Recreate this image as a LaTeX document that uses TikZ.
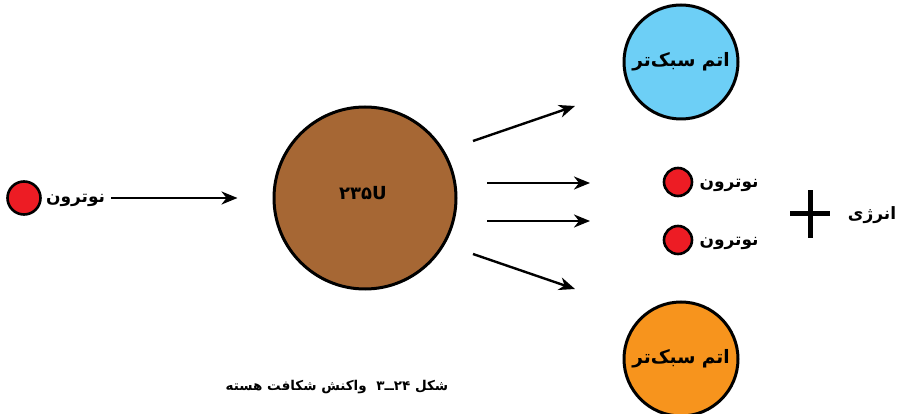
\documentclass[tikz,border=0pt]{standalone}
\usepackage{fontspec}
\usetikzlibrary{shapes, arrows.meta, positioning}
\newfontfamily\fafont[Script=Arabic]{DejaVu Sans}
\TeXXeTstate=1
\newcommand{\fatext}[1]{{\fafont\bfseries\beginR #1\endR}}
\definecolor{nred}{RGB}{237,28,36}
\definecolor{ubrown}{RGB}{166,103,52}
\definecolor{lblue}{RGB}{109,207,246}
\definecolor{lorange}{RGB}{247,148,29}

\begin{document}
\begin{tikzpicture}[x=1pt, y=-1pt,
        neutron/.style={circle, draw, line width=2.6pt, fill=nred, minimum size=28pt, inner sep=0pt},
        nucleus/.style={circle, draw, line width=3pt, fill=ubrown, minimum size=182pt, inner sep=0pt},
        atom/.style={circle, draw, line width=3pt, minimum size=114pt, inner sep=0pt},
        fatxt/.style={inner sep=0pt, font=\fontsize{17}{20}\selectfont},
        arrow/.style={-{Stealth[length=16pt, width=13pt, inset=5pt]}, line width=2.4pt}
    ]
    \useasboundingbox (0,0) rectangle (903,414);
    % incoming neutron
    \node[neutron, minimum size=33pt] (n0) at (24,198) {};
    \node[fatxt, right=4pt of n0, yshift=-2pt] (n0txt) {\fatext{نوترون}};
    % uranium nucleus
    \node[nucleus] (u) at (365,198) {};
    \node[fatxt, font=\fontsize{18}{20}\selectfont] (utxt) at (363,193) {\fafont\bfseries ۲۳۵U};
    \draw[arrow, shorten <=6pt, shorten >=35pt] (n0txt.east |- n0) -- (u.west);
    % fission products
    \node[atom, fill=lblue] (top) at (681,62) {\fontsize{18.5}{22}\selectfont\fatext{اتم سبک‌تر}};
    \node[atom, fill=lorange] (bottom) at (681,359) {\fontsize{18.5}{22}\selectfont\fatext{اتم سبک‌تر}};
    \node[neutron] (n1) at (678,182) {};
    \node[neutron] (n2) at (678,240) {};
    \node[fatxt, right=6pt of n1, yshift=-3pt] (n1txt) {\fatext{نوترون}};
    \node[fatxt, right=6pt of n2, yshift=-3pt] (n2txt) {\fatext{نوترون}};
    % energy
    \coordinate (plus) at (810,214);
    \draw[line width=5pt] ([xshift=-20pt]plus) -- ([xshift=20pt]plus)
        ([yshift=-24pt]plus) -- ([yshift=24pt]plus);
    \node[fatxt] (energy) at (872,215) {\fatext{انرژی}};
    % arrows out of the nucleus
    \coordinate (a1s) at (473,141); \coordinate (a1e) at (575,106);
    \coordinate (a2s) at (487,183); \coordinate (a2e) at (590,183);
    \coordinate (a3s) at (487,221); \coordinate (a3e) at (590,221);
    \coordinate (a4s) at (473,254); \coordinate (a4e) at (575,289);
    \draw[arrow] (a1s) -- (a1e);
    \draw[arrow] (a2s) -- (a2e);
    \draw[arrow] (a3s) -- (a3e);
    \draw[arrow] (a4s) -- (a4e);
    % caption
    \node[fatxt, font=\fontsize{13.5}{15}\selectfont] (caption) at (337,387) {\fatext{شکل ۲۴ــ۳\hspace{5pt} واکنش شکافت هسته}};
\end{tikzpicture}
\end{document}
